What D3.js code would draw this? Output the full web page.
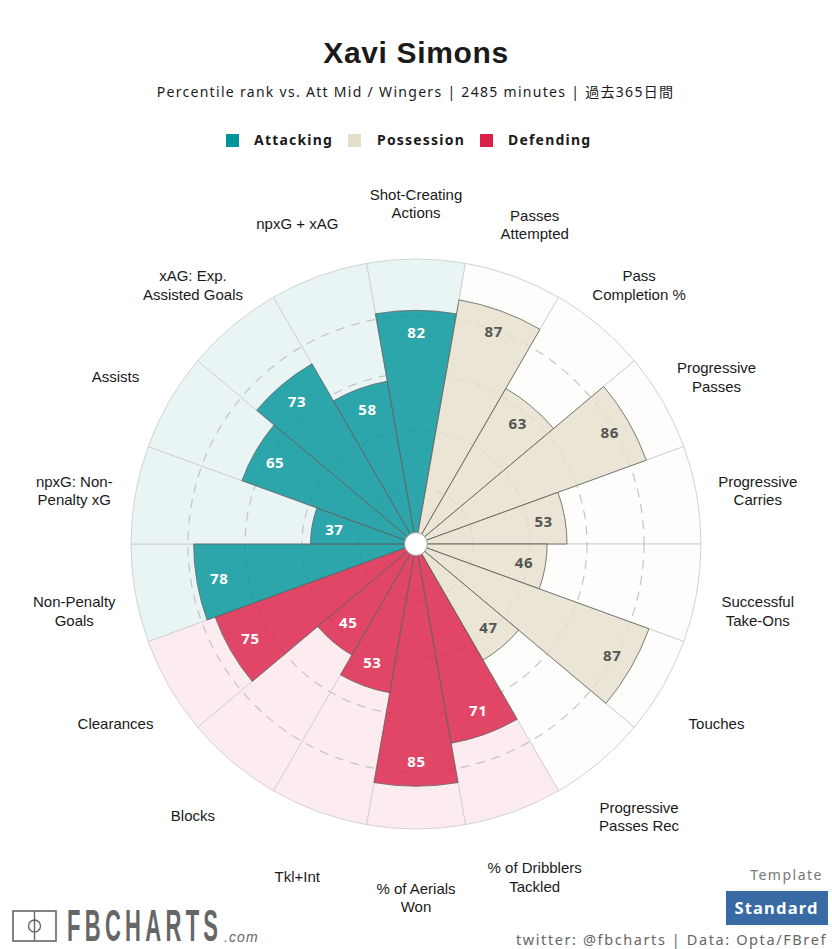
<!DOCTYPE html>
<html>
<head>
<meta charset="utf-8">
<script src="https://cdn.jsdelivr.net/npm/d3@7"></script>
<style>
html, body { margin: 0; padding: 0; background: #fff; }
svg { display: block; }
text { font-family: "Noto Sans", sans-serif; }
.cat { font-family: "Liberation Sans", Arial, sans-serif; font-size: 15px; fill: #1a1a1a; }
</style>
</head>
<body>
<svg id="chart" width="832" height="949"></svg>
<script>
// clockwise from the top
const categories = ["Shot-Creating\nActions", "Passes\nAttempted", "Pass\nCompletion %", "Progressive\nPasses",
  "Progressive\nCarries", "Successful\nTake-Ons", "Touches", "Progressive\nPasses Rec",
  "% of Dribblers\nTackled", "% of Aerials\nWon", "Tkl+Int", "Blocks", "Clearances",
  "Non-Penalty\nGoals", "npxG: Non-\nPenalty xG", "Assists", "xAG: Exp.\nAssisted Goals", "npxG + xAG"];
const values = [82, 87, 63, 86, 53, 46, 87, 47, 71, 85, 53, 45, 75, 78, 37, 65, 73, 58];
const groups = ["Attacking", "Possession", "Possession", "Possession", "Possession", "Possession", "Possession", "Possession",
  "Defending", "Defending", "Defending", "Defending", "Defending", "Attacking", "Attacking", "Attacking", "Attacking", "Attacking"];
const groupNames = ["Attacking", "Possession", "Defending"];
const groupColors = ["#01949a", "#e5dfca", "#db1f48"];
const gridTicks = [20, 40, 60, 80];

const svg = d3.select("#chart");
const cx = 416, cy = 544, outerR = 285;

const color = d3.scaleOrdinal().domain(groupNames).range(groupColors);
const r = d3.scaleLinear().domain([0, 100]).range([0, outerR]);
const step = 2 * Math.PI / categories.length;
const angle = d3.scaleBand().domain(categories).range([-step / 2, 2 * Math.PI - step / 2]);
const arc = d3.arc().innerRadius(0);

const rows = categories.map((c, i) => ({ cat: c, value: values[i], group: groups[i] }));
const plot = svg.append("g").attr("transform", `translate(${cx},${cy})`);

// pale background wedges
plot.selectAll(".bg").data(rows).enter().append("path")
  .attr("class", "bg")
  .attr("d", d => arc({ outerRadius: r(100), startAngle: angle(d.cat), endAngle: angle(d.cat) + step }))
  .attr("fill", d => d.group == "Possession" ? "#fdfdfb" : d.group == "Attacking" ? "#e9f5f5" : "#fcecf0")
  .attr("stroke", "#d2d2d2")
  .attr("stroke-width", 1);

plot.selectAll(".grid").data(gridTicks).enter().append("circle")
  .attr("class", "grid")
  .attr("r", d => r(d))
  .attr("fill", "none")
  .attr("stroke", "#c4c4c4")
  .attr("stroke-width", 1.2)
  .attr("stroke-dasharray", "9,7");

plot.selectAll(".bar").data(rows).enter().append("path")
  .attr("class", "bar")
  .attr("d", d => arc({ outerRadius: r(d.value), startAngle: angle(d.cat), endAngle: angle(d.cat) + step }))
  .attr("fill", d => color(d.group))
  .attr("fill-opacity", 0.81)
  .attr("stroke", "#666")
  .attr("stroke-opacity", 0.85)
  .attr("stroke-width", 1);

plot.append("circle").attr("r", 11.5).attr("fill", "#fff").attr("stroke", "#999").attr("stroke-width", 1);

// value labels sit just inside the bar end, a little further in on the lower half
plot.selectAll(".val").data(rows).enter().append("text")
  .attr("class", "val")
  .attr("x", d => Math.sin(angle(d.cat) + step / 2) * (r(d.value) - 22) + 0.5)
  .attr("y", d => {
    const c = Math.cos(angle(d.cat) + step / 2);
    return -c * (r(d.value) - 22) - 3 * Math.max(0, -c);
  })
  .attr("dy", "0.36em")
  .attr("text-anchor", "middle")
  .attr("font-size", 15)
  .attr("font-weight", 700)
  .attr("letter-spacing", 0.6)
  .attr("fill", d => d.group == "Possession" ? "#555" : "#fff")
  .text(d => d.value);

// category labels
const labelR = 347, labelCy = 551;
const catText = svg.selectAll(".cat").data(rows).enter().append("text")
  .attr("class", "cat")
  .attr("text-anchor", "middle")
  .attr("transform", d => {
    const a = angle(d.cat) + step / 2;
    return `translate(${cx + Math.sin(a) * labelR},${labelCy - Math.cos(a) * labelR})`;
  });
catText.each(function (d) {
  const lines = d.cat.split("\n");
  d3.select(this).selectAll("tspan").data(lines).enter().append("tspan")
    .attr("x", 0)
    .attr("y", (l, i) => (i - (lines.length - 1) / 2) * 18.5 + (lines.length > 1 ? 5.2 : 4.5))
    .text(l => l);
});

// title block
svg.append("text").attr("x", 416).attr("y", 63).attr("text-anchor", "middle")
  .attr("font-size", 30).attr("font-weight", 700).attr("letter-spacing", 0.65).attr("fill", "#1a1a1a")
  .style("font-family", '"Liberation Sans", Arial, sans-serif')
  .text("Xavi Simons");
svg.append("text").attr("x", 415.5).attr("y", 97).attr("text-anchor", "middle")
  .attr("font-size", 14).attr("letter-spacing", 1.3).attr("fill", "#1a1a1a")
  .style("font-family", '"Noto Sans", "Noto Sans CJK JP", sans-serif')
  .text("Percentile rank vs. Att Mid / Wingers | 2485 minutes | 過去365日間");

// legend
const legendX = [226, 348, 480];
const legendTextX = [254, 377, 508];
svg.selectAll(".lg").data(groupNames).enter().append("rect")
  .attr("class", "lg")
  .attr("x", (d, i) => legendX[i]).attr("y", 134)
  .attr("width", 13).attr("height", 13)
  .attr("fill", d => color(d));
svg.selectAll(".lgt").data(groupNames).enter().append("text")
  .attr("class", "lgt")
  .attr("x", (d, i) => legendTextX[i]).attr("y", 145)
  .attr("font-size", 14).attr("font-weight", 700).attr("letter-spacing", 1.2).attr("fill", "#1a1a1a")
  .text(d => d);

// logo
const logo = svg.append("g").attr("fill", "none").attr("stroke", "#666");
logo.append("rect").attr("x", 13).attr("y", 911).attr("width", 43).attr("height", 30).attr("stroke-width", 1.6);
logo.append("line").attr("x1", 34.5).attr("x2", 34.5).attr("y1", 911).attr("y2", 941).attr("stroke-width", 1.4);
logo.append("circle").attr("cx", 34.5).attr("cy", 926).attr("r", 6).attr("stroke-width", 1.4);
svg.append("text").attr("transform", "translate(67,941) scale(0.5,1)")
  .attr("font-size", 44).attr("font-weight", 700).attr("letter-spacing", 8.6).attr("fill", "#666")
  .style("font-family", '"Liberation Sans", Arial, sans-serif')
  .text("FBCHARTS");
svg.append("text").attr("x", 224).attr("y", 942)
  .attr("font-size", 14).attr("font-style", "italic").attr("letter-spacing", 1.1).attr("fill", "#666")
  .style("font-family", '"Liberation Sans", Arial, sans-serif')
  .text(".com");

// bottom right
svg.append("text").attr("x", 823).attr("y", 880).attr("text-anchor", "end")
  .attr("font-size", 14).attr("letter-spacing", 1.5).attr("fill", "#777").text("Template");
svg.append("rect").attr("x", 726).attr("y", 891).attr("width", 102).attr("height", 34).attr("fill", "#386ba4");
svg.append("text").attr("x", 776.5).attr("y", 914).attr("text-anchor", "middle")
  .attr("font-size", 16.5).attr("font-weight", 700).attr("letter-spacing", 1.2).attr("fill", "#fff").text("Standard");
svg.append("text").attr("x", 827).attr("y", 945).attr("text-anchor", "end")
  .attr("font-size", 14.5).attr("letter-spacing", 1.6).attr("fill", "#666").text("twitter: @fbcharts | Data: Opta/FBref");
</script>
</body>
</html>
